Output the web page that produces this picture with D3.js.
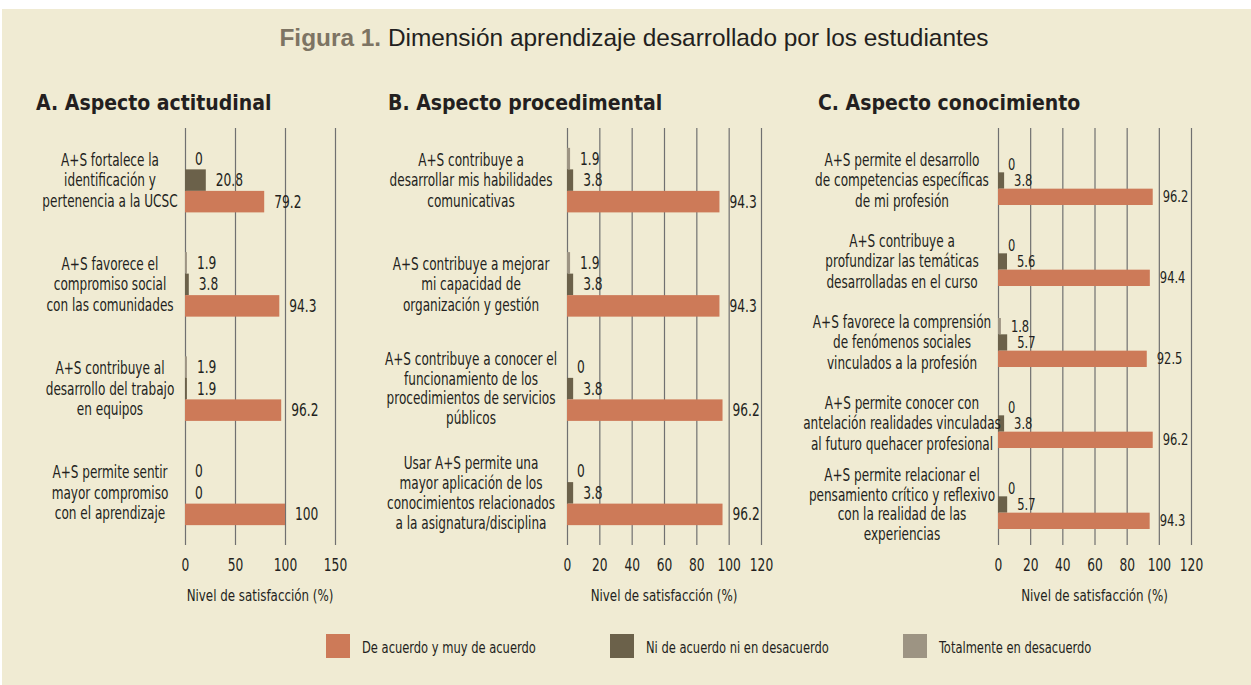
<!DOCTYPE html>
<html><head><meta charset="utf-8">
<script src="https://cdn.jsdelivr.net/npm/d3@7"></script>
<style>
html,body{margin:0;padding:0;background:#fff;}
svg{display:block;}
text{font-family:"DejaVu Sans Condensed","DejaVu Sans",sans-serif;fill:#231f20;}
</style></head>
<body>
<svg id="chart" width="1251" height="685"></svg>
<script>
// ---------- DATA ----------
const seriesNames = ["Totalmente en desacuerdo", "Ni de acuerdo ni en desacuerdo", "De acuerdo y muy de acuerdo"];
const legendOrder = ["De acuerdo y muy de acuerdo", "Ni de acuerdo ni en desacuerdo", "Totalmente en desacuerdo"];

const catsA = [
  ["A+S fortalece la", "identificación y", "pertenencia a la UCSC"],
  ["A+S favorece el", "compromiso social", "con las comunidades"],
  ["A+S contribuye al", "desarrollo del trabajo", "en equipos"],
  ["A+S permite sentir", "mayor compromiso", "con el aprendizaje"]
];
const acuerdoA = [79.2, 94.3, 96.2, 100];
const niA = [20.8, 3.8, 1.9, 0];
const totalA = [0, 1.9, 1.9, 0];
const ticksA = [0, 50, 100, 150];

const catsB = [
  ["A+S contribuye a", "desarrollar mis habilidades", "comunicativas"],
  ["A+S contribuye a mejorar", "mi capacidad de", "organización y gestión"],
  ["A+S contribuye a conocer el", "funcionamiento de los", "procedimientos de servicios", "públicos"],
  ["Usar A+S permite una", "mayor aplicación de los", "conocimientos relacionados", "a la asignatura/disciplina"]
];
const acuerdoB = [94.3, 94.3, 96.2, 96.2];
const niB = [3.8, 3.8, 3.8, 3.8];
const totalB = [1.9, 1.9, 0, 0];
const ticksB = [0, 20, 40, 60, 80, 100, 120];

const catsC = [
  ["A+S permite el desarrollo", "de competencias específicas", "de mi profesión"],
  ["A+S contribuye a", "profundizar las temáticas", "desarrolladas en el curso"],
  ["A+S favorece la comprensión", "de fenómenos sociales", "vinculados a la profesión"],
  ["A+S permite conocer con", "antelación realidades vinculadas", "al futuro quehacer profesional"],
  ["A+S permite relacionar el", "pensamiento crítico y reflexivo", "con la realidad de las", "experiencias"]
];
const acuerdoC = [96.2, 94.4, 92.5, 96.2, 94.3];
const niC = [3.8, 5.6, 5.7, 3.8, 5.7];
const totalC = [0, 0, 1.8, 0, 0];
const ticksC = [0, 20, 40, 60, 80, 100, 120];

const titleBold = "Figura 1.";
const titleRest = " Dimensión aprendizaje desarrollado por los estudiantes";
const panelTitles = ["A. Aspecto actitudinal", "B. Aspecto procedimental", "C. Aspecto conocimiento"];
const axisTitle = "Nivel de satisfacción (%)";

// ---------- STYLE ----------
const colors = {
  "De acuerdo y muy de acuerdo": "#cd7a58",
  "Ni de acuerdo ni en desacuerdo": "#6b614a",
  "Totalmente en desacuerdo": "#9d9483"
};

const svg = d3.select("#chart");
svg.append("rect").attr("x", 2).attr("y", 9).attr("width", 1249).attr("height", 676).attr("fill", "#f0ebd3");

// condensed text helper: text placed at (x,y) and squeezed horizontally
function ctext(parent, x, y, str, size, f, anchor) {
  return parent.append("text")
    .attr("transform", `translate(${x},${y}) scale(${f},1)`)
    .attr("text-anchor", anchor || "start")
    .attr("dy", "0.35em")
    .style("font-size", size + "px")
    .text(str);
}

// Title
const t = svg.append("text").attr("x", 634).attr("y", 46).attr("text-anchor", "middle")
  .style("font-family", "'Liberation Sans', Arial, sans-serif").style("font-size", "24.4px");
t.append("tspan").text(titleBold).style("font-weight", "bold").style("fill", "#7d7463");
t.append("tspan").text(titleRest).style("fill", "#231f20");

const panels = [
  {cats: catsA, vals: [totalA, niA, acuerdoA], ticks: ticksA, domain: [0, 150], xr: [185, 335], yr: [128, 545], pad: 0.381, labelX: 110, titleX: 36, vSize: 17},
  {cats: catsB, vals: [totalB, niB, acuerdoB], ticks: ticksB, domain: [0, 120], xr: [567, 761], yr: [128, 545], pad: 0.381, labelX: 471, titleX: 388, vSize: 17},
  {cats: catsC, vals: [totalC, niC, acuerdoC], ticks: ticksC, domain: [0, 120], xr: [998, 1191], yr: [140, 545], pad: 0.395, labelX: 902, titleX: 818, vSize: 16}
];

panels.forEach((p, pi) => {
  const g = svg.append("g");
  g.append("text").attr("x", p.titleX).attr("y", 110).text(panelTitles[pi])
    .style("font-weight", "bold").style("font-size", "21px");

  const x = d3.scaleLinear().domain(p.domain).range(p.xr);
  const idx = p.cats.map((d, i) => i);
  const y = d3.scaleBand().domain(idx).range(p.yr).paddingInner(p.pad).paddingOuter(p.pad / 2);
  const ys = d3.scaleBand().domain(seriesNames).range([0, y.bandwidth()]);

  // gridlines via axis
  const ax = d3.axisBottom(x).tickValues(p.ticks).tickSize(-(545 - 128)).tickPadding(10);
  const axG = g.append("g").attr("transform", `translate(0,545)`).call(ax);
  axG.select(".domain").remove();
  axG.selectAll(".tick line").attr("stroke", "#707070").attr("stroke-width", 1.2);
  axG.selectAll(".tick text").style("font-size", "17px")
    .style("font-family", "'DejaVu Sans Condensed', sans-serif")
    .attr("fill", "#231f20").attr("dy", "0.95em").attr("transform", "scale(0.8,1)");

  ctext(g, (p.xr[0] + p.xr[1]) / 2, 595, axisTitle, 16.5, 0.8, "middle");

  // bars
  seriesNames.forEach((s, si) => {
    const data = p.vals[si].map((v, i) => ({i, v}));
    g.selectAll(null).data(data).enter().append("rect")
      .attr("x", x(0)).attr("y", d => y(d.i) + ys(s))
      .attr("width", d => x(d.v) - x(0)).attr("height", ys.bandwidth())
      .attr("fill", colors[s]);
    data.forEach(d => {
      ctext(g, x(d.v) + 10, y(d.i) + ys(s) + ys.bandwidth() / 2, d.v, p.vSize, 0.8, "start");
    });
  });

  // category labels
  p.cats.forEach((lines, i) => {
    const cy = y(i) + y.bandwidth() / 2;
    const lh = lines.length > 3 ? 19.8 : 20.5;
    lines.forEach((ln, li) => {
      ctext(g, p.labelX, cy + (li - (lines.length - 1) / 2) * lh, ln, 17, 0.79, "middle");
    });
  });
});

// legend
const legX = [326, 610, 903];
legendOrder.forEach((s, i) => {
  svg.append("rect").attr("x", legX[i]).attr("y", 634).attr("width", 24).attr("height", 24).attr("fill", colors[s]);
  ctext(svg, legX[i] + 36, 647, s, 16, 0.8, "start");
});
</script>
</body></html>
